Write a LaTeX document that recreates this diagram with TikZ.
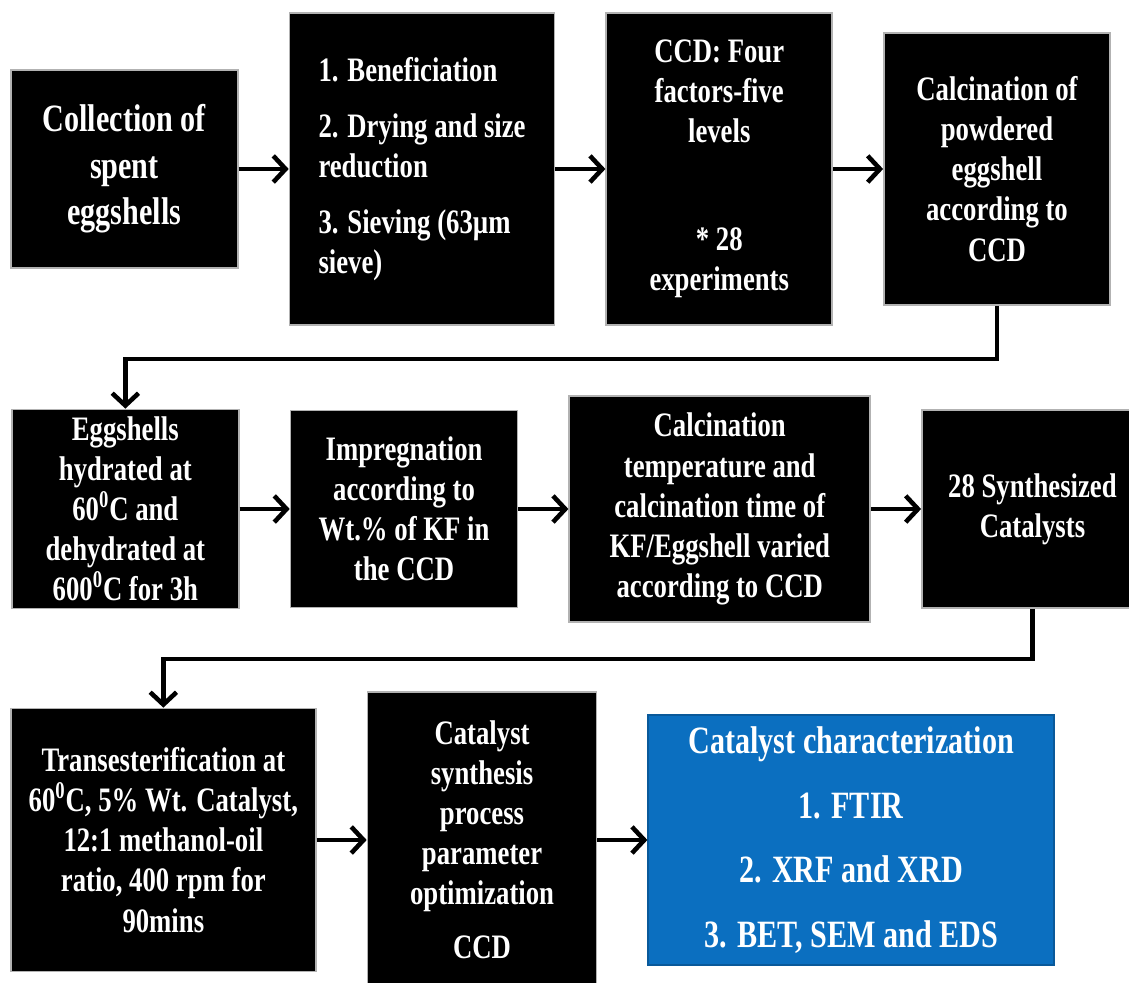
\documentclass[tikz,border=0pt]{standalone}
\usepackage{fontspec}
\setmainfont{Liberation Serif}[FakeStretch=0.78]
\usetikzlibrary{chains, positioning, arrows.meta}
\definecolor{charblue}{HTML}{0B6FC0}

\begin{document}
\begin{tikzpicture}[
    x=0.02cm, y=-0.02cm,
    node distance = 1cm,
    flow/.style = {-{Straight Barb[length=7pt,width=15pt]}, line width=2.6pt},
    bigtext/.style = {font=\bfseries\fontsize{22}{26.5}\selectfont},
    every node/.style = {
        draw=black!30, line width=1pt, fill=black, text=white,
        font=\bfseries\fontsize{19.5}{22.8}\selectfont, align=center,
        inner sep=2pt, on chain, join=by {flow}
    }
  ]
    \useasboundingbox (0,0) rectangle (1129,983);

    % first row
    \begin{scope}[start chain=going right]
    \node[bigtext, minimum width=4.54cm, minimum height=3.96cm, anchor=west] (collect) at (10,169)
        {Collection of\\ spent\\ eggshells};
    \node[align=left, minimum width=5.3cm, minimum height=6.24cm] (prepare)
        {1. Beneficiation\\[0.32cm] 2. Drying and size\\ reduction\\[0.32cm] 3. Sieving (63µm\\ sieve)};
    \node[minimum width=4.52cm, minimum height=6.24cm] (design)
        {CCD: Four\\ factors-five\\ levels\\[1.36cm] * 28\\ experiments};
    \node[minimum width=4.52cm, minimum height=5.44cm] (calcine)
        {Calcination of\\ powdered\\ eggshell\\ according to\\ CCD};
    \end{scope}

    % second row
    \begin{scope}[start chain=going right]
    \node[minimum width=4.54cm, minimum height=3.98cm, anchor=west] (hydrate) at (11,509)
        {Eggshells\\ hydrated at\\ 60\textsuperscript{0}C and\\ dehydrated at\\ 600\textsuperscript{0}C for 3h};
    \node[minimum width=4.54cm, minimum height=3.94cm] (impreg)
        {Impregnation\\ according to\\ Wt.\% of KF in\\ the CCD};
    \node[minimum width=6.02cm, minimum height=4.52cm] (vary)
        {Calcination\\ temperature and\\ calcination time of\\ KF/Eggshell varied\\ according to CCD};
    \node[minimum width=4.42cm, minimum height=3.96cm] (catalysts)
        {28 Synthesized\\ Catalysts};
    \end{scope}

    % third row
    \begin{scope}[start chain=going right]
    \node[minimum width=6.1cm, minimum height=5.26cm, anchor=west] (trans) at (10,840)
        {Transesterification at\\ 60\textsuperscript{0}C, 5\% Wt. Catalyst,\\ 12:1 methanol-oil\\ ratio, 400 rpm for\\ 90mins};
    \node[minimum width=4.58cm, minimum height=5.92cm] (optim)
        {Catalyst\\ synthesis\\ process\\ parameter\\ optimization\\[0.28cm] CCD};
    \node[bigtext, fill=charblue, draw=charblue!80!black, minimum width=8.12cm, minimum height=5cm] (charact)
        {Catalyst characterization\\[0.36cm] 1. FTIR\\[0.36cm] 2. XRF and XRD\\[0.36cm] 3. BET, SEM and EDS};
    \end{scope}

    % links between rows
    \draw[flow] (calcine.south) -- ++(0,53) -| (hydrate.north);
    \draw[flow] (catalysts.south) -- ++(0,50) -| (trans.north);
\end{tikzpicture}
\end{document}
